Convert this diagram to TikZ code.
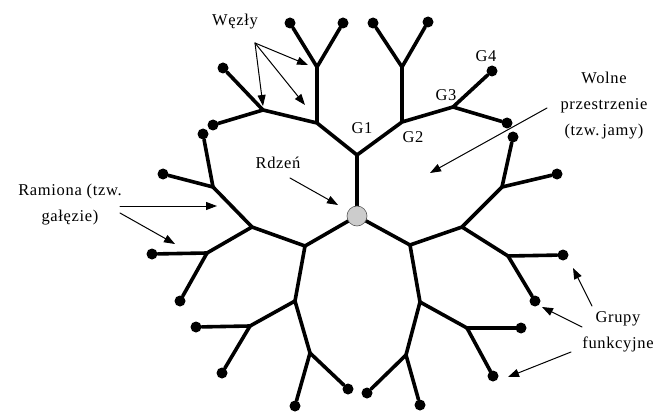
\documentclass[tikz,border=0pt]{standalone}
\usepackage{fontspec}
\setmainfont{Liberation Serif}
\usetikzlibrary{arrows.meta}
\begin{document}
\begin{tikzpicture}[x=1pt,y=-1pt,line join=round,line cap=round,
	arm/.style={line width=3.6pt},
	leaf/.style={circle,fill,inner sep=0pt,minimum size=11pt},
	lbl/.style={align=center,inner sep=0pt,font=\fontsize{16.5}{26}\selectfont\addfontfeature{LetterSpace=4}},
	ptr/.style={-{Triangle[length=11pt,width=8pt]},line width=1pt}]
\useasboundingbox (0,0) rectangle (657,412);
% rdzen i punkty rozgalezien
\coordinate (c) at (357,216);
\coordinate (t) at (357,155);   \coordinate (l) at (305,246);   \coordinate (r) at (410,245);
\coordinate (tl) at (317,123);  \coordinate (tr) at (402,122);
\coordinate (la) at (252,227);  \coordinate (lb) at (295,301);
\coordinate (ra) at (462,227);  \coordinate (rb) at (420,302);
\coordinate (tla) at (317,67);  \coordinate (tlb) at (263,110);
\coordinate (tra) at (402,67);  \coordinate (trb) at (453,107);
\coordinate (laa) at (213,187); \coordinate (lab) at (207,253);
\coordinate (lba) at (250,326); \coordinate (lbb) at (310,353);
\coordinate (raa) at (502,187); \coordinate (rab) at (508,256);
\coordinate (rba) at (467,328); \coordinate (rbb) at (406,355);
\draw[arm] (c)--(t) (t)--(tl) (t)--(tr) (tl)--(tla) (tl)--(tlb) (tr)--(tra) (tr)--(trb);
\draw[arm] (c)--(l) (l)--(la) (l)--(lb) (la)--(laa) (la)--(lab) (lb)--(lba) (lb)--(lbb);
\draw[arm] (c)--(r) (r)--(ra) (r)--(rb) (ra)--(raa) (ra)--(rab) (rb)--(rba) (rb)--(rbb);
% grupy funkcyjne
\foreach \g/\x/\y [count=\i] in {tla/290/23,tla/343/23,tlb/223/68,tlb/213/125,
	tra/373/23,tra/428/22,trb/492/71,trb/507/123,
	laa/163/174,laa/203/134,lab/152/254,lab/180/301,
	lba/196/327,lba/222/373,lbb/295/406,lbb/348/389,
	raa/557/174,raa/513/137,rab/563/255,rab/535/301,
	rba/521/328,rba/493/376,rbb/367/393,rbb/420/405}{
	\node[leaf] (f\i) at (\x,\y) {};
	\draw[arm] (\g)--(f\i);
}
\node[circle,draw=gray!70!black,fill=gray!40,line width=0.6pt,minimum size=20pt,inner sep=0pt] (core) at (c) {};
% opisy
\node[lbl] (wezly) at (235,22) {Węzły};
\node[lbl] (g1) at (362,128) {G1};
\node[lbl] (g2) at (413,137) {G2};
\node[lbl] (g3) at (446,95) {G3};
\node[lbl] (g4) at (486,56) {G4};
\node[lbl] (rdzen) at (278,163) {Rdzeń};
\node[lbl] (wolne) at (604,106) {Wolne\\przestrzenie\\(tzw.\,jamy)};
\node[lbl] (ramiona) at (70,205) {Ramiona (tzw.\\gałęzie)};
\node[lbl] (grupy) at (618,332) {Grupy\\funkcyjne};
% strzalki
\coordinate (w0) at (255,43);
\draw[ptr] (w0)--(308,65) coordinate (w1);
\draw[ptr] (w0)--(305,105) coordinate (w2);
\draw[ptr] (w0)--(263,106) coordinate (w3);
\draw[ptr] (290,178) coordinate (r0)--(338,205) coordinate (r1);
\draw[ptr] (547,108) coordinate (j0)--(430,173) coordinate (j1);
\draw[ptr] (120,206) coordinate (a0)--(217,206) coordinate (a1);
\draw[ptr] (120,213) coordinate (b0)--(175,244) coordinate (b1);
\draw[ptr] (592,306) coordinate (p0)--(573,268) coordinate (p1);
\draw[ptr] (582,327) coordinate (q0)--(542,307) coordinate (q1);
\draw[ptr] (571,352) coordinate (s0)--(508,377) coordinate (s1);
\end{tikzpicture}
\end{document}
